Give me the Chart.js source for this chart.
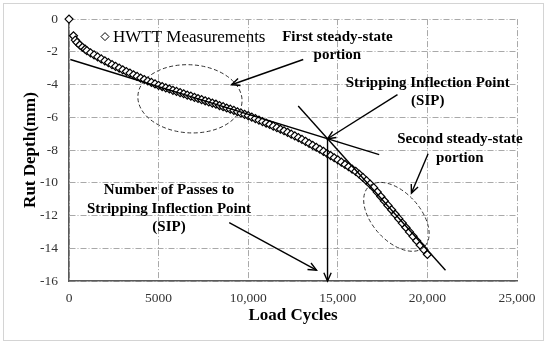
<!DOCTYPE html>
<html>
<head>
<meta charset="utf-8">
<script src="https://cdn.jsdelivr.net/npm/chart.js@4/dist/chart.umd.min.js"></script>
<style>
  html, body { margin: 0; padding: 0; background: #fff; }
</style>
</head>
<body>
<canvas id="rutChart" width="550" height="345"></canvas>
<script>
const loadCycles = [
  0, 250, 350, 450, 600, 750, 900, 1000,
  1200, 1400, 1600, 1800, 2000, 2200, 2400, 2600, 2800, 3000,
  3200, 3400, 3600, 3800, 4000, 4200, 4400, 4600, 4800, 5000,
  5200, 5400, 5600, 5800, 6000, 6200, 6400, 6600, 6800, 7000,
  7200, 7400, 7600, 7800, 8000, 8200, 8400, 8600, 8800, 9000,
  9200, 9400, 9600, 9800, 10000, 10200, 10400, 10600, 10800, 11000,
  11200, 11400, 11600, 11800, 12000, 12200, 12400, 12600, 12800, 13000,
  13200, 13400, 13600, 13800, 14000, 14200, 14400, 14600, 14800, 15000,
  15200, 15400, 15600, 15800, 16000, 16200, 16400, 16600, 16800, 17000,
  17200, 17400, 17600, 17800, 18000, 18200, 18400, 18600, 18800, 19000,
  19200, 19400, 19600, 19800, 20000
];
const rutDepth = [
  0, -1.02, -1.28, -1.42, -1.58, -1.72, -1.84, -1.93,
  -2.06, -2.19, -2.31, -2.43, -2.55, -2.66, -2.78, -2.89, -2.99, -3.10,
  -3.20, -3.30, -3.40, -3.50, -3.60, -3.69, -3.78, -3.87, -3.96, -4.05,
  -4.12, -4.20, -4.27, -4.35, -4.42, -4.49, -4.56, -4.64, -4.71, -4.78,
  -4.85, -4.92, -4.99, -5.06, -5.13, -5.20, -5.28, -5.35, -5.43, -5.50,
  -5.58, -5.66, -5.74, -5.82, -5.90, -5.99, -6.08, -6.17, -6.26, -6.35,
  -6.44, -6.54, -6.63, -6.73, -6.82, -6.92, -7.03, -7.13, -7.24, -7.35,
  -7.47, -7.59, -7.71, -7.83, -7.95, -8.08, -8.21, -8.34, -8.47, -8.60,
  -8.74, -8.88, -9.02, -9.16, -9.30, -9.48, -9.67, -9.87, -10.08, -10.30,
  -10.57, -10.84, -11.11, -11.38, -11.65, -11.92, -12.19, -12.46, -12.73, -13.00,
  -13.27, -13.54, -13.81, -14.08, -14.38
];
const xTickValues = [0, 5000, 10000, 15000, 20000, 25000];
const xTickLabels = ['0', '5000', '10,000', '15,000', '20,000', '25,000'];
const seriesLabel = 'HWTT Measurements';

// steady-state trend lines: [x1, y1, x2, y2]
const trendLines = [
  [73, -2.47, 17310, -8.28],
  [12790, -5.31, 21010, -15.34]
];
// arrows: [fromX, fromY, toX, toY]
const arrows = [
  [13070, -2.47, 9070, -4.01],
  [18330, -4.61, 14427, -7.31],
  [20040, -8.22, 19110, -10.63],
  [8940, -12.43, 13810, -15.34],
  [14427, -7.31, 14427, -16]
];
const notes = [
  { x: 14975, y: -1.08, lines: ['First steady-state', 'portion'] },
  { x: 20020, y: -3.91, lines: ['Stripping Inflection Point', '(SIP)'] },
  { x: 21810, y: -7.34, lines: ['Second steady-state', 'portion'] },
  { x: 5580, y: -10.47, lines: ['Number of Passes to', 'Stripping Inflection Point', '(SIP)'] }
];

const SERIF = "'Liberation Serif', 'Times New Roman', serif";

function arrowHead(ctx, x1, y1, x2, y2) {
  const ang = Math.atan2(y2 - y1, x2 - x1);
  const len = 9, spread = 0.42;
  ctx.beginPath();
  ctx.moveTo(x2 - len * Math.cos(ang - spread), y2 - len * Math.sin(ang - spread));
  ctx.lineTo(x2, y2);
  ctx.lineTo(x2 - len * Math.cos(ang + spread), y2 - len * Math.sin(ang + spread));
  ctx.stroke();
}

function diamond(ctx, x, y, r) {
  ctx.beginPath();
  ctx.moveTo(x - r, y);
  ctx.lineTo(x, y - r);
  ctx.lineTo(x + r, y);
  ctx.lineTo(x, y + r);
  ctx.closePath();
  ctx.fillStyle = '#fff';
  ctx.fill();
  ctx.stroke();
}

const framePlugin = {
  id: 'frame',
  beforeDraw(chart) {
    const ctx = chart.ctx;
    ctx.save();
    ctx.fillStyle = '#fff';
    ctx.fillRect(0, 0, chart.width, chart.height);
    ctx.strokeStyle = '#d4d4d4';
    ctx.lineWidth = 1;
    ctx.strokeRect(3.5, 3.5, 540, 337);
    ctx.restore();
  }
};

const annotationPlugin = {
  id: 'sipNotes',
  afterDatasetsDraw(chart) {
    const ctx = chart.ctx;
    const xs = chart.scales.x, ys = chart.scales.y;
    const px = v => xs.getPixelForValue(v);
    const py = v => ys.getPixelForValue(v);
    ctx.save();

    // dashed ellipses around the two steady-state portions
    ctx.strokeStyle = '#333';
    ctx.lineWidth = 1;
    ctx.setLineDash([4, 2.5]);
    ctx.beginPath();
    ctx.ellipse(px(6750), py(-4.87), px(6750 + 2910) - px(6750), py(-4.87 - 2.08) - py(-4.87), 0.06, 0, Math.PI * 2);
    ctx.stroke();
    ctx.beginPath();
    ctx.ellipse(px(18270), py(-12.08), 41, 24, 48 * Math.PI / 180, 0, Math.PI * 2);
    ctx.stroke();
    ctx.setLineDash([]);

    // trend lines
    ctx.strokeStyle = '#000';
    ctx.lineWidth = 1.4;
    trendLines.forEach(l => {
      ctx.beginPath();
      ctx.moveTo(px(l[0]), py(l[1]));
      ctx.lineTo(px(l[2]), py(l[3]));
      ctx.stroke();
    });

    // arrows
    arrows.forEach(a => {
      const x1 = px(a[0]), y1 = py(a[1]), x2 = px(a[2]), y2 = py(a[3]);
      ctx.beginPath();
      ctx.moveTo(x1, y1);
      ctx.lineTo(x2, y2);
      ctx.stroke();
      arrowHead(ctx, x1, y1, x2, y2);
    });

    // text notes
    ctx.fillStyle = '#000';
    ctx.font = 'bold 15px ' + SERIF;
    ctx.textAlign = 'center';
    ctx.textBaseline = 'middle';
    notes.forEach(n => {
      n.lines.forEach((t, i) => ctx.fillText(t, px(n.x), py(n.y) + i * 18.5));
    });

    // legend inside plot
    const lx = chart.chartArea.left + 36, ly = chart.chartArea.top + 17.5;
    ctx.lineWidth = 1;
    ctx.strokeStyle = '#000';
    diamond(ctx, lx, ly, 4);
    ctx.fillStyle = '#000';
    ctx.font = '17px ' + SERIF;
    ctx.textAlign = 'left';
    ctx.fillText(seriesLabel, lx + 8, ly + 1);
    ctx.restore();
  }
};

const tickFont = { family: SERIF, size: 13.5 };
const titleFont = { family: SERIF, size: 17, weight: 'bold' };
const gridStyle = { display: true, drawOnChartArea: true, drawTicks: false, color: '#a9a9a9', lineWidth: 1 };

const ctx = document.getElementById('rutChart').getContext('2d');
const chart = new Chart(ctx, {
  type: 'scatter',
  data: {
    datasets: [{
      label: seriesLabel,
      data: loadCycles.map((c, i) => ({ x: c, y: rutDepth[i] })),
      pointStyle: 'rectRot',
      pointRadius: 4,
      pointBackgroundColor: '#fff',
      pointBorderColor: '#000',
      pointBorderWidth: 1.2,
      showLine: false,
      clip: false
    }]
  },
  options: {
    responsive: false,
    animation: false,
    layout: { padding: { left: 0, top: 15, right: 33, bottom: 0 } },
    plugins: {
      legend: { display: false },
      tooltip: { enabled: false }
    },
    scales: {
      x: {
        type: 'linear',
        min: 0,
        max: 25000,
        afterFit: s => { s.height = 64; },
        afterBuildTicks: s => { s.ticks = xTickValues.map(v => ({ value: v })); },
        ticks: {
          padding: 9,
          color: '#333',
          font: tickFont,
          maxRotation: 0,
          autoSkip: false,
          callback: v => xTickLabels[xTickValues.indexOf(v)]
        },
        grid: gridStyle,
        border: { color: '#5a5a5a', width: 1.5, dash: [6, 2, 1, 2] },
        title: { display: true, text: 'Load Cycles', color: '#000', font: titleFont, padding: { top: 0, bottom: 19 } }
      },
      y: {
        type: 'linear',
        min: -16,
        max: 0,
        afterFit: s => { s.width = 69; },
        ticks: { stepSize: 2, padding: 11, color: '#333', font: tickFont },
        grid: gridStyle,
        border: { color: '#5a5a5a', width: 1.5, dash: [6, 2, 1, 2] },
        title: { display: true, text: 'Rut Depth(mm)', color: '#000', font: titleFont, padding: { top: 20, bottom: 0 } }
      }
    }
  },
  plugins: [framePlugin, annotationPlugin]
});
</script>
</body>
</html>
